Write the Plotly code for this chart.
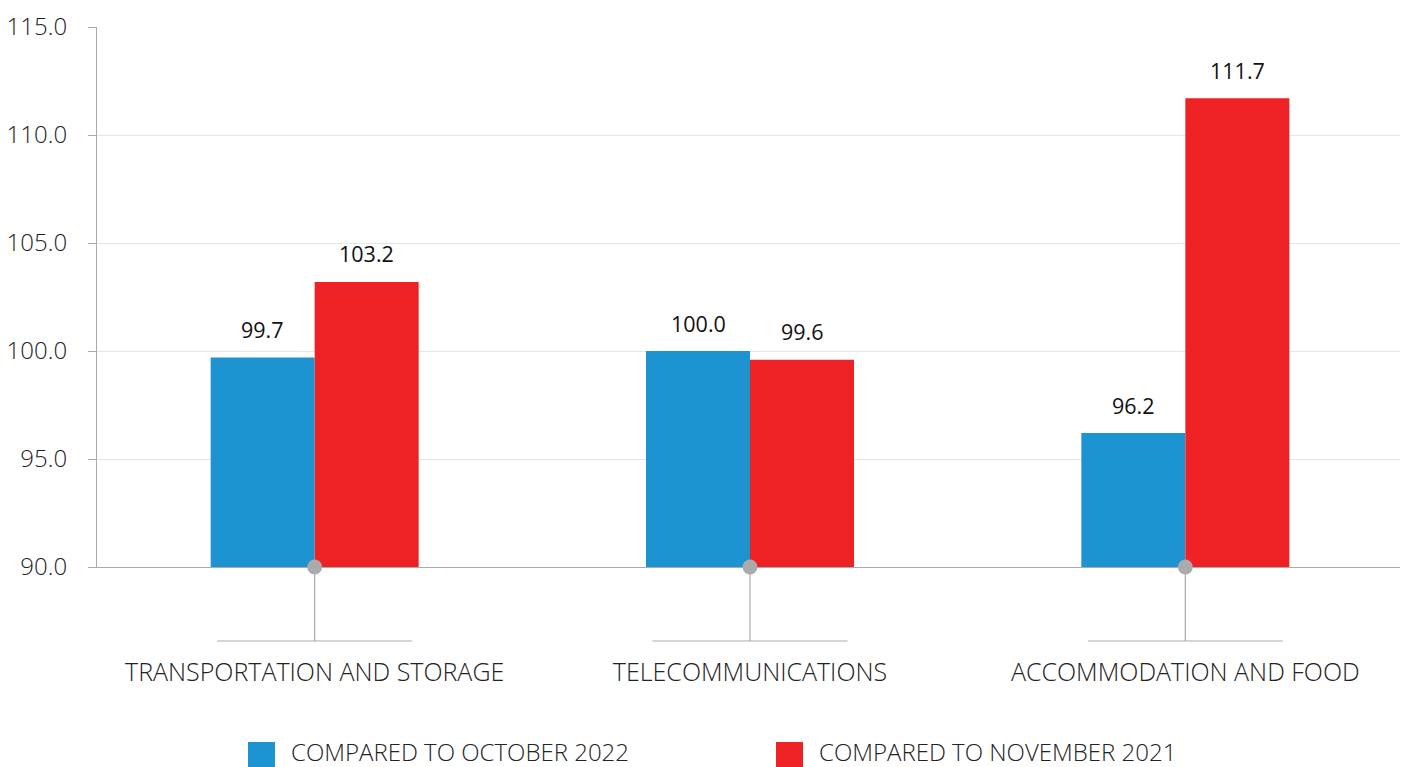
import plotly.graph_objects as go

categories = ["TRANSPORTATION AND STORAGE", "TELECOMMUNICATIONS", "ACCOMMODATION AND FOOD"]
series_names = ["COMPARED TO OCTOBER 2022", "COMPARED TO NOVEMBER 2021"]
oct_2022 = [99.7, 100.0, 96.2]
nov_2021 = [103.2, 99.6, 111.7]
series_values = [oct_2022, nov_2021]
colors = ["#1E93D2", "#EE2125"]
y_ticks = [90, 95, 100, 105, 110, 115]

FONT = "Open Sans"
OFF = 8  # page body margin
# plot area in page pixels: x 97..1403, y 27..567
plot_w, plot_h = 1306, 540
ml, mt = 97 - OFF, 27 - OFF
W, H = 1408 - OFF, 767 - OFF
mr = W - ml - plot_w
mb = H - mt - plot_h

fig = go.Figure()
for name, vals, col in zip(series_names, series_values, colors):
    fig.add_trace(go.Bar(
        x=categories, y=[v - 90 for v in vals], base=90,
        name=name, marker=dict(color=col, line=dict(width=0)),
        showlegend=False, hoverinfo="skip",
    ))

# grey dots at category positions on the baseline
fig.add_trace(go.Scatter(
    x=categories, y=[90] * len(categories), mode="markers",
    marker=dict(size=15, color="#ABABAD"), cliponaxis=False,
    showlegend=False, hoverinfo="skip",
))

px_per_cat = plot_w / len(categories)
bar_px = 104
drop = (641 - 567) / plot_h
for i, c in enumerate(categories):
    fig.add_shape(type="line", xref="x", yref="paper", x0=i, x1=i, y0=0, y1=-drop,
                  line=dict(color="#ABABAD", width=1.2), layer="below")
    fig.add_shape(type="line", xref="x", yref="paper", x0=i - 0.224, x1=i + 0.224,
                  y0=-drop, y1=-drop, line=dict(color="#ABABAD", width=1.2), layer="below")

# value labels
for vals, sh in zip(series_values, [-bar_px / 2, bar_px / 2]):
    for i, v in enumerate(vals):
        fig.add_annotation(x=categories[i], y=v, xref="x", yref="y", text=f"{v:.1f}",
                           showarrow=False, xshift=sh, yshift=28,
                           font=dict(family=FONT, size=21.5, color="#111"))

# manual legend
legend_x = [248, 776]
for name, col, lx in zip(series_names, colors, legend_x):
    fig.add_shape(type="rect", xref="paper", yref="paper",
                  x0=(lx - 97) / plot_w, x1=(lx + 27 - 97) / plot_w,
                  y0=(567 - 742) / plot_h, y1=(567 - 768) / plot_h,
                  fillcolor=col, line=dict(width=0))
    fig.add_annotation(xref="paper", yref="paper", x=(lx + 42 - 97) / plot_w,
                       y=(567 - 751) / plot_h, text=name, showarrow=False,
                       xanchor="left", yanchor="middle", borderpad=0,
                       font=dict(family=FONT, size=24, color="#222", weight=300))

fig.update_layout(
    width=W, height=H, autosize=False,
    margin=dict(l=ml, r=mr, t=mt, b=mb, autoexpand=False),
    paper_bgcolor="white", plot_bgcolor="white",
    barmode="group", bargap=1 - 2 * bar_px / px_per_cat, bargroupgap=0,
    xaxis=dict(range=[-0.5, 2.5], showline=True, linecolor="#ABABAD", linewidth=1.2,
               ticks="", showgrid=False, ticklabelstandoff=83, automargin=False,
               tickfont=dict(family=FONT, size=25, color="#222", weight=300)),
    yaxis=dict(range=[90, 115], tickvals=y_ticks, ticktext=[f"{t:.1f}" for t in y_ticks],
               showline=True, linecolor="#ABABAD", linewidth=1.2,
               ticks="outside", ticklen=8, tickcolor="#ABABAD",
               showgrid=True, gridcolor="#E6E6E6", gridwidth=1, zeroline=False,
               ticklabelstandoff=16, automargin=False,
               tickfont=dict(family=FONT, size=24, color="#222", weight=300)),
    showlegend=False,
)

fig.write_html("out.html")
